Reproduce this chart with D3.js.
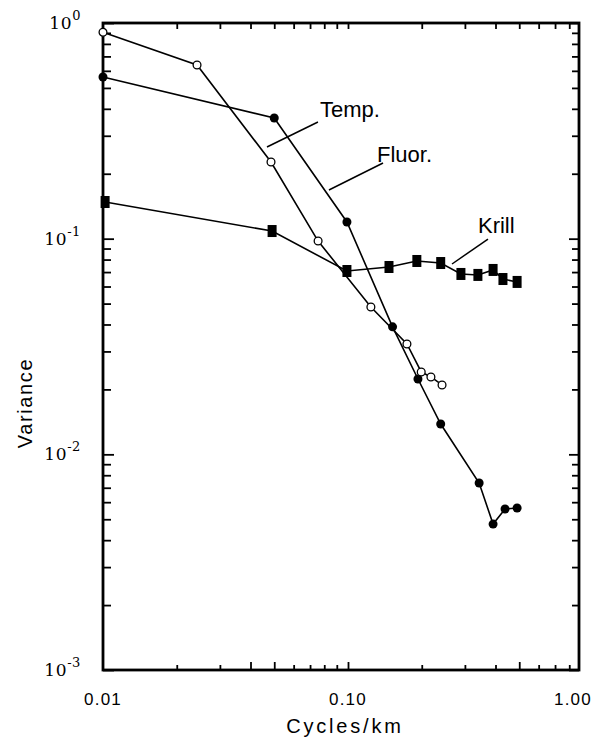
<!DOCTYPE html>
<html><head><meta charset="utf-8">
<script src="https://cdn.jsdelivr.net/npm/d3@7"></script>
<style>body{margin:0;background:#fff} svg{display:block}</style>
</head><body>
<svg id="c" width="606" height="737"></svg>
<script>
// ---- data ----
const tempX  = [0.01, 0.05, 0.099, 0.152, 0.193, 0.239, 0.343, 0.391, 0.4375, 0.49];
const tempY  = [0.562, 0.3626, 0.1195, 0.0390, 0.02235, 0.01382, 0.00736, 0.00475, 0.00558, 0.00564];
const fluorX = [0.01, 0.0242, 0.0485, 0.0755, 0.124, 0.174, 0.199, 0.218, 0.242];
const fluorY = [0.906, 0.639, 0.2267, 0.0975, 0.0482, 0.0325, 0.02409, 0.02284, 0.02097];
const krillX = [0.0102, 0.049, 0.099, 0.147, 0.191, 0.239, 0.289, 0.339, 0.391, 0.429, 0.49];
const krillY = [0.1479, 0.1085, 0.0708, 0.0739, 0.0788, 0.0771, 0.0686, 0.0679, 0.0716, 0.065, 0.063];
const xTickValues = [0.01, 0.1, 1];
const xTickLabels = ["0.01", "0.10", "1.00"];
const yTickExponents = [0, -1, -2, -3];
const annotations = [
  {label: "Temp.",  tx: 0.0769, ty: 0.3665, x1: 0.0754, y1: 0.3475, x2: 0.0467, y2: 0.266},
  {label: "Fluor.", tx: 0.1313, ty: 0.2267, x1: 0.139,  y1: 0.2243, x2: 0.0836, y2: 0.1681},
  {label: "Krill",  tx: 0.3393, ty: 0.1062, x1: 0.3727, y1: 0.0996, x2: 0.2658, y2: 0.0763}
];

// ---- layout ----
const mLeft = 103, mTop = 23, W = 476, H = 647;
const svg = d3.select("#c");
const g = svg.append("g").attr("transform", `translate(${mLeft},${mTop})`);
const x = d3.scaleLog().domain([0.01, 1]).range([0, 490]);
const y = d3.scaleLog().domain([1e-3, 1]).range([H, 0]);
const xMax = x.invert(W);
const sans = "'Liberation Sans', Arial, sans-serif";
const serif = "'DejaVu Serif', serif";

// minor / major tick values
const xMinor = [], xMinorTall = [];
[0.01, 0.1].forEach(d => { for (let k = 2; k <= 9; k++) { const v = k * d; if (v < xMax * 0.999) ((k === 4 && d === 0.01) || k === 5) ? xMinorTall.push(v) : xMinor.push(v); } });
xMinorTall.push(0.1);
const yMinor = [];
[1e-3, 1e-2, 1e-1].forEach(d => { for (let k = 2; k <= 9; k++) yMinor.push(k * d); });
const yMajor = yTickExponents.map(e => Math.pow(10, e));

function tickAxis(axisFn, scale, vals, size, tr) {
  const a = g.append("g").attr("transform", tr)
    .call(axisFn(scale).tickValues(vals).tickSize(size).tickFormat(""));
  a.select(".domain").remove();
  a.selectAll("line").attr("stroke", "#000").attr("stroke-width", 1.8);
}
// bottom (inward = up), top (inward = down)
tickAxis(d3.axisTop, x, xMinor, 5, `translate(0,${H})`);
tickAxis(d3.axisTop, x, xMinorTall, 8, `translate(0,${H})`);
tickAxis(d3.axisBottom, x, xMinor.concat(xMinorTall), 6, `translate(0,0)`);
// left (inward = right), right (inward = left)
tickAxis(d3.axisRight, y, yMinor, 8, `translate(0,0)`);
tickAxis(d3.axisRight, y, yMajor, 11, `translate(0,0)`);
tickAxis(d3.axisLeft, y, yMinor, 7, `translate(${W},0)`);
tickAxis(d3.axisLeft, y, yMajor, 10, `translate(${W},0)`);

// frame
g.append("rect").attr("x", 0).attr("y", 0).attr("width", W).attr("height", H)
  .attr("fill", "none").attr("stroke", "#000").attr("stroke-width", 2.8);

// x tick labels
g.selectAll(".xl").data(xTickValues).enter().append("text")
  .attr("x", d => Math.min(x(d), W - 6)).attr("y", H + 35)
  .attr("text-anchor", "middle").attr("font-family", sans).attr("font-size", 17)
  .attr("letter-spacing", 1.2).text((d, i) => xTickLabels[i]);

// y tick labels
yTickExponents.forEach(e => {
  const t = g.append("text").attr("x", -22).attr("y", y(Math.pow(10, e)) + 6)
    .attr("text-anchor", "end").attr("font-family", serif).attr("font-size", 17)
    .attr("letter-spacing", 0.6);
  t.append("tspan").text("10");
  t.append("tspan").attr("dy", -9).attr("font-size", 13).text(e === 0 ? "0" : "-" + Math.abs(e));
});

// axis titles
svg.append("text").attr("x", 345).attr("y", 733).attr("text-anchor", "middle")
  .attr("font-family", sans).attr("font-size", 20).attr("letter-spacing", 2.8).text("Cycles/km");
svg.append("text").attr("transform", "translate(32,403) rotate(-90)").attr("text-anchor", "middle")
  .attr("font-family", sans).attr("font-size", 20).attr("letter-spacing", 1.6).text("Variance");

// series
const series = [
  {xs: tempX, ys: tempY, kind: "filled"},
  {xs: fluorX, ys: fluorY, kind: "open"},
  {xs: krillX, ys: krillY, kind: "square"}
];
const line = d3.line().x(d => x(d[0])).y(d => y(d[1]));
series.forEach(s => {
  const pts = s.xs.map((v, i) => [v, s.ys[i]]);
  g.append("path").attr("d", line(pts)).attr("fill", "none").attr("stroke", "#000").attr("stroke-width", 1.6);
});
series.forEach(s => {
  const pts = s.xs.map((v, i) => [v, s.ys[i]]);
  if (s.kind === "square") {
    g.selectAll(null).data(pts).enter().append("rect")
      .attr("x", d => x(d[0]) - 4.5).attr("y", d => y(d[1]) - 6)
      .attr("width", 9).attr("height", 12).attr("fill", "#000");
  } else {
    g.selectAll(null).data(pts).enter().append("circle")
      .attr("cx", d => x(d[0])).attr("cy", d => y(d[1]))
      .attr("r", s.kind === "filled" ? 4.5 : 3.9)
      .attr("fill", s.kind === "filled" ? "#000" : "#fff")
      .attr("stroke", "#000").attr("stroke-width", s.kind === "filled" ? 0 : 1.3);
  }
});

// annotations
annotations.forEach(a => {
  g.append("line").attr("x1", x(a.x1)).attr("y1", y(a.y1)).attr("x2", x(a.x2)).attr("y2", y(a.y2))
    .attr("stroke", "#000").attr("stroke-width", 1.5);
  g.append("text").attr("x", x(a.tx)).attr("y", y(a.ty)).attr("font-family", sans)
    .attr("font-size", 22).text(a.label);
});
</script>
</body></html>
